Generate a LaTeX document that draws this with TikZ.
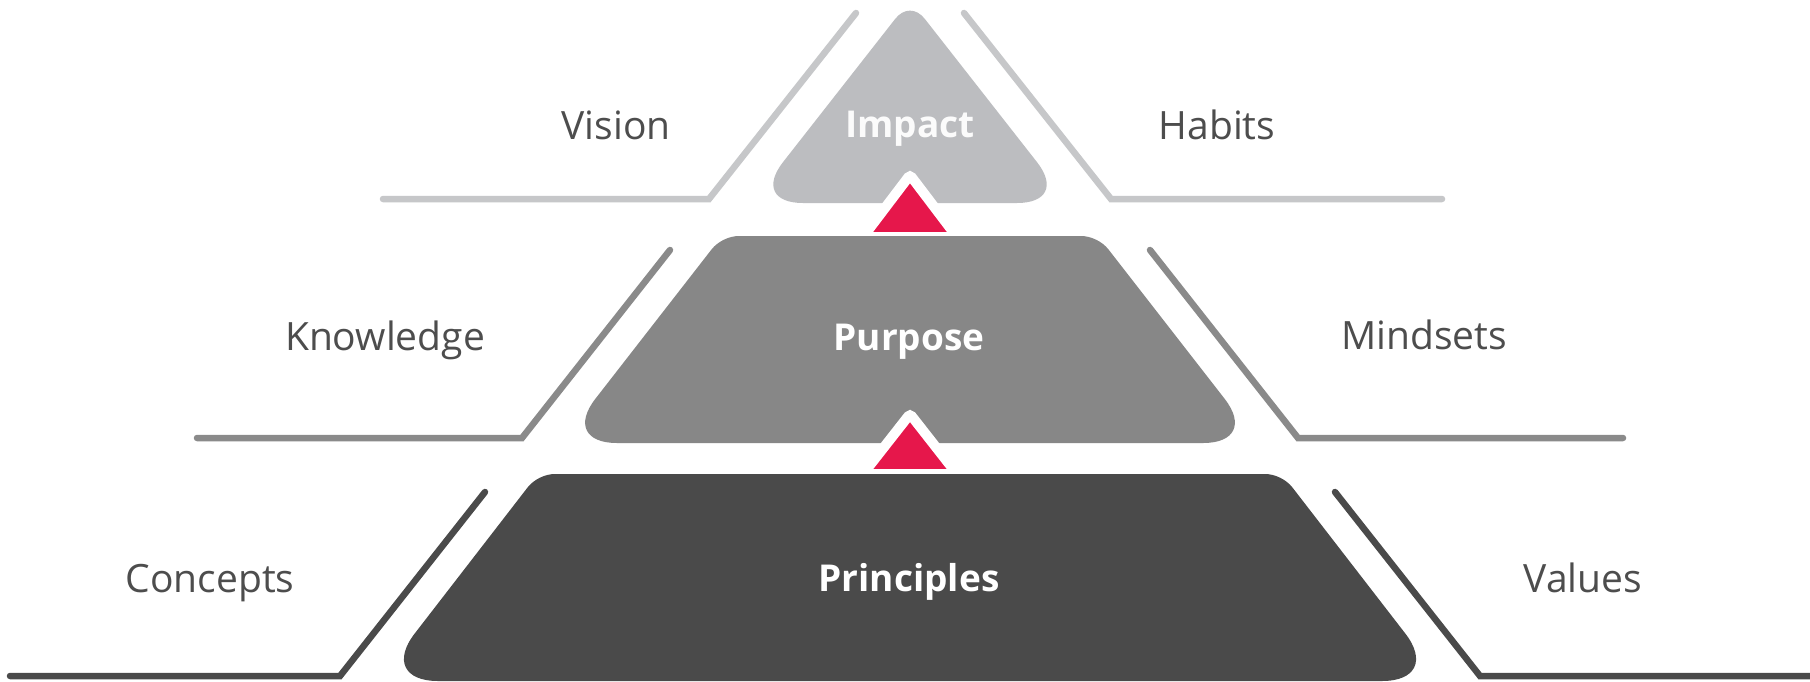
\documentclass[tikz,border=0pt]{standalone}
\usepackage{fontspec}
\setmainfont{Open Sans}
\usetikzlibrary{calc}
\definecolor{impactgray}{HTML}{BCBDC0}
\definecolor{purposegray}{HTML}{878787}
\definecolor{principlesgray}{HTML}{4A4A4A}
\definecolor{arrowred}{HTML}{E6174B}
\definecolor{labelgray}{HTML}{4D4D4D}
\definecolor{lightline}{HTML}{C6C7C9}
\definecolor{midline}{HTML}{8A8A8A}
\definecolor{darkline}{HTML}{4A4A4A}
% rounded corner at #2 between #1 and #3: cut #4, control #5
\newcommand\rcorner[5]{-- ($(#2)!#4!(#1)$) .. controls ($(#2)!#5!(#1)$) and ($(#2)!#5!(#3)$) .. ($(#2)!#4!(#3)$)}
\begin{document}
\begin{tikzpicture}[x=1pt,y=-1pt,
  lbl/.style={font=\fontsize{39}{47}\selectfont, text=labelgray, anchor=base, inner sep=0pt},
  ttl/.style={font=\fontsize{37}{45}\selectfont\bfseries, text=white, anchor=base, inner sep=0pt},
  guide/.style={line width=6.5pt, line cap=round, line join=miter},
  redtri/.style={fill=arrowred, draw=white, line width=10pt, rounded corners=3pt}]
\useasboundingbox (0,0) rectangle (1810,681);
\fill[white] (0,0) rectangle (1810,681);
% guide lines
\coordinate (v1) at (383,199); \coordinate (v2) at (709,199); \coordinate (v3) at (856,13);
\coordinate (h1) at (964,13); \coordinate (h2) at (1111,199); \coordinate (h3) at (1442,199);
\coordinate (k1) at (197,438); \coordinate (k2) at (522,438); \coordinate (k3) at (670,250);
\coordinate (m1) at (1150,250); \coordinate (m2) at (1298,438); \coordinate (m3) at (1623,438);
\coordinate (c1) at (10,676); \coordinate (c2) at (340,676); \coordinate (c3) at (485,492);
\coordinate (w1) at (1335,492); \coordinate (w2) at (1480,676); \coordinate (w3) at (1812,676);
\draw[guide, lightline] (v1) -- (v2) -- (v3);
\draw[guide, lightline] (h1) -- (h2) -- (h3);
\draw[guide, midline] (k1) -- (k2) -- (k3);
\draw[guide, midline] (m1) -- (m2) -- (m3);
\draw[guide, darkline] (c1) -- (c2) -- (c3);
\draw[guide, darkline] (w1) -- (w2) -- (w3);
% impact
\coordinate (iA) at (910,0); \coordinate (iR) at (1069,203); \coordinate (iL) at (751,203);
\fill[impactgray] (910,203) \rcorner{iR}{iL}{iA}{52pt}{22pt} \rcorner{iL}{iA}{iR}{24pt}{10pt}
  \rcorner{iA}{iR}{iL}{52pt}{22pt} -- cycle;
\fill[redtri] (863,237) -- (910,175) -- (957,237) -- cycle;
% purpose
\coordinate (pTL) at (722,236); \coordinate (pTR) at (1098,236);
\coordinate (pBR) at (1259,443); \coordinate (pBL) at (561,443);
\fill[purposegray] (910,236) \rcorner{pTL}{pTR}{pBR}{17pt}{7pt} \rcorner{pTR}{pBR}{pBL}{56pt}{24pt}
  \rcorner{pBR}{pBL}{pTL}{56pt}{24pt} \rcorner{pBL}{pTL}{pTR}{17pt}{7pt} -- cycle;
\fill[redtri] (863,474) -- (910,414) -- (957,474) -- cycle;
% principles
\coordinate (qTL) at (538,474); \coordinate (qTR) at (1282,474);
\coordinate (qBR) at (1442,681); \coordinate (qBL) at (378,681);
\fill[principlesgray] (910,474) \rcorner{qTL}{qTR}{qBR}{17pt}{7pt} \rcorner{qTR}{qBR}{qBL}{60pt}{26pt}
  \rcorner{qBR}{qBL}{qTL}{60pt}{26pt} \rcorner{qBL}{qTL}{qTR}{17pt}{7pt} -- cycle;
% labels
\node[lbl] (vision) at (616,139) {Vision};
\node[lbl] (habits) at (1217,139) {Habits};
\node[lbl] (knowledge) at (385,350) {Knowledge};
\node[lbl] (mindsets) at (1424,349) {Mindsets};
\node[lbl] (concepts) at (210,592) {Concepts};
\node[lbl] (values) at (1583,592) {Values};
\node[ttl, text=white!94!impactgray] (impact) at (910,137) {Impact};
\node[ttl] (purpose) at (909,350) {Purpose};
\node[ttl] (principles) at (909,591) {Principles};
\end{tikzpicture}
\end{document}
